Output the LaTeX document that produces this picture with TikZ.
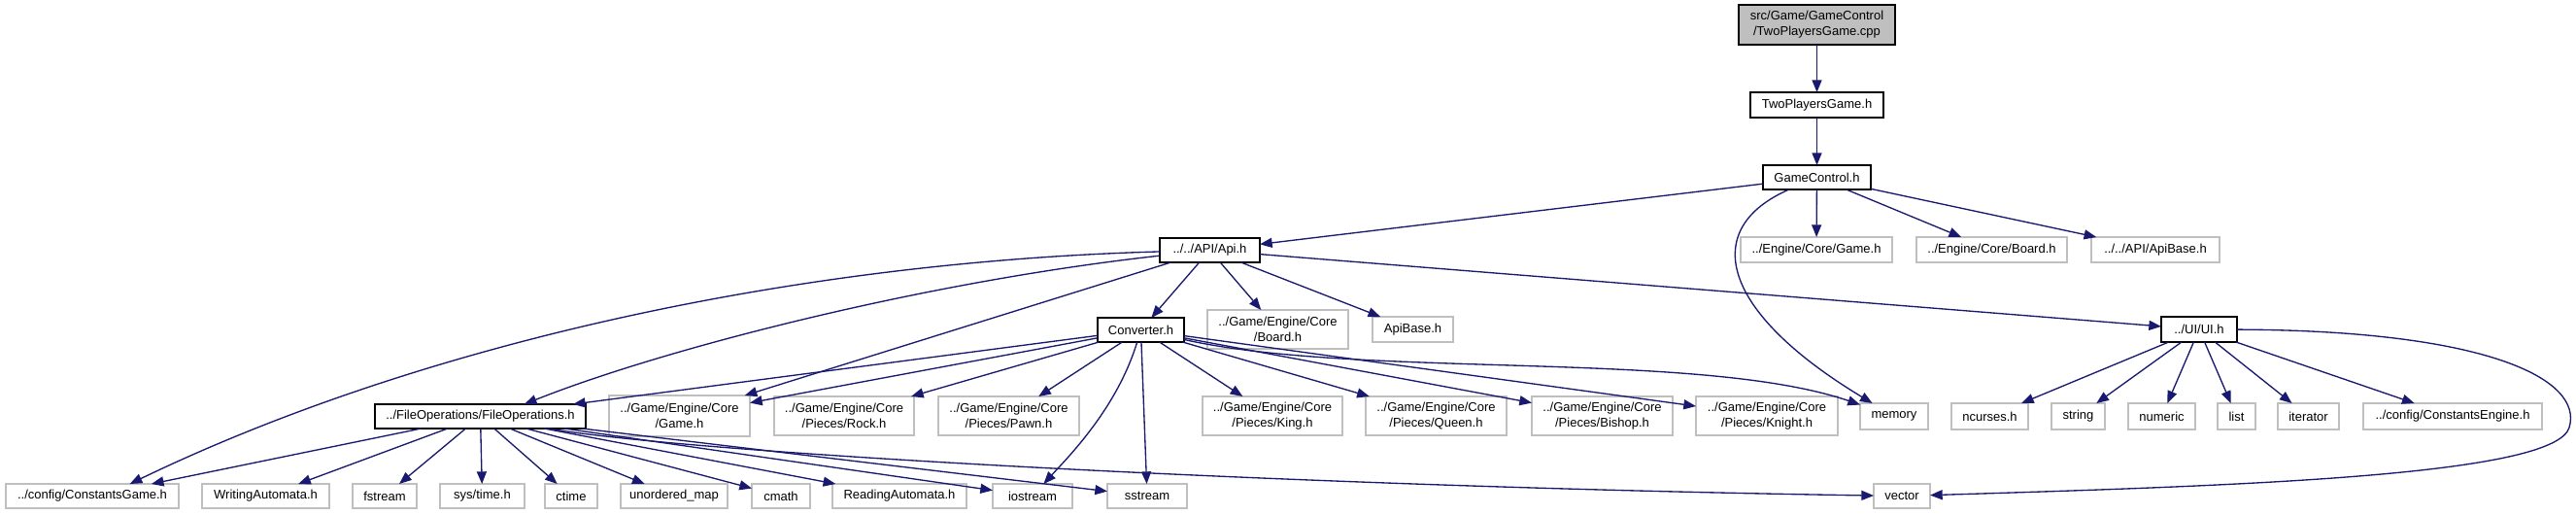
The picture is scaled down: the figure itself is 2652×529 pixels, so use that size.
\documentclass[tikz,border=0pt]{standalone}
\usepackage{fontspec}
\setmainfont{Liberation Sans}
\usetikzlibrary{arrows.meta}
\definecolor{edgecol}{HTML}{191970}
\definecolor{grayline}{HTML}{BFBFBF}
\definecolor{grayfill}{HTML}{BFBFBF}
\newcommand{\gn}[7]{\node[#1,minimum width={0.75pt*(#5-#3)},minimum height={0.75pt*(#6-#4)}] (#2) at ({(#3+#5)/2},{(#4+#6)/2}) {#7};}
\tikzset{
  box/.style={draw=black, line width=1.1pt, fill=white, inner sep=0pt, outer sep=0pt, align=center, font=\fontsize{9.75pt}{12pt}\selectfont},
  gbox/.style={box, draw=grayline},
  rootbox/.style={box, fill=grayfill},
  dep/.style={draw=edgecol, line width=1pt, -{Triangle[length=9.5pt,width=7.5pt]}},
}
\begin{document}
\begin{tikzpicture}[x=0.75pt,y=-0.75pt]
\useasboundingbox[fill=white] (0,0) rectangle (2652,529);
% nodes
\gn{rootbox}{cpp}{1790}{5}{1951}{46}{src/Game/GameControl\\/TwoPlayersGame.cpp}
\gn{box}{tpg}{1802}{95}{1939}{121}{TwoPlayersGame.h}
\gn{box}{gc}{1815}{170}{1926}{195}{GameControl.h}
\gn{box}{api}{1194}{245}{1297}{270}{../../API/Api.h}
\gn{gbox}{egame}{1792}{244}{1948}{270}{../Engine/Core/Game.h}
\gn{gbox}{eboard}{1973}{244}{2128}{270}{../Engine/Core/Board.h}
\gn{gbox}{apibasea}{2153}{244}{2285}{270}{../../API/ApiBase.h}
\gn{box}{conv}{1130}{327}{1219}{352}{Converter.h}
\gn{gbox}{gboard}{1243}{319}{1388}{359}{../Game/Engine/Core\\/Board.h}
\gn{gbox}{apibaseb}{1413}{326}{1496}{352}{ApiBase.h}
\gn{box}{ui}{2225}{326}{2303}{352}{../UI/UI.h}
\gn{box}{fileops}{386}{416}{603}{441}{../FileOperations/FileOperations.h}
\gn{gbox}{ggame}{627}{407}{772}{449}{../Game/Engine/Core\\/Game.h}
\gn{gbox}{rock}{797}{408}{941}{448}{../Game/Engine/Core\\/Pieces/Rock.h}
\gn{gbox}{pawn}{966}{408}{1111}{448}{../Game/Engine/Core\\/Pieces/Pawn.h}
\gn{gbox}{king}{1238}{408}{1382}{448}{../Game/Engine/Core\\/Pieces/King.h}
\gn{gbox}{queen}{1406}{408}{1551}{448}{../Game/Engine/Core\\/Pieces/Queen.h}
\gn{gbox}{bishop}{1577}{408}{1722}{448}{../Game/Engine/Core\\/Pieces/Bishop.h}
\gn{gbox}{knight}{1746}{408}{1892}{448}{../Game/Engine/Core\\/Pieces/Knight.h}
\gn{gbox}{memory}{1915}{415}{1985}{442}{memory}
\gn{gbox}{ncurses}{2009}{415}{2088}{442}{ncurses.h}
\gn{gbox}{string}{2112}{415}{2167}{442}{string}
\gn{gbox}{numeric}{2191}{415}{2260}{442}{numeric}
\gn{gbox}{list}{2283}{415}{2322}{442}{list}
\gn{gbox}{iterator}{2345}{415}{2408}{442}{iterator}
\gn{gbox}{cengine}{2433}{415}{2617}{442}{../config/ConstantsEngine.h}
\gn{gbox}{cgame}{6}{498}{184}{523}{../config/ConstantsGame.h}
\gn{gbox}{writing}{208}{498}{339}{523}{WritingAutomata.h}
\gn{gbox}{fstream}{363}{498}{429}{523}{fstream}
\gn{gbox}{systime}{453}{498}{540}{523}{sys/time.h}
\gn{gbox}{ctime}{561}{498}{615}{523}{ctime}
\gn{gbox}{umap}{639}{498}{749}{523}{unordered\_map}
\gn{gbox}{cmath}{774}{498}{834}{523}{cmath}
\gn{gbox}{reading}{857}{498}{995}{523}{ReadingAutomata.h}
\gn{gbox}{iostream}{1022}{498}{1104}{523}{iostream}
\gn{gbox}{sstream}{1140}{498}{1222}{523}{sstream}
\gn{gbox}{vector}{1929}{498}{1987}{523}{vector}
% edges
\draw[dep] (cpp) -- (tpg);
\draw[dep] (tpg) -- (gc);
\draw[dep] (gc) -- (api);
\draw[dep] (gc) .. controls (1750,235) and (1770,320) .. (memory);
\draw[dep] (gc) -- (egame);
\draw[dep] (gc) -- (eboard);
\draw[dep] (gc) -- (apibasea);
\draw[dep] (api) -- (conv);
\draw[dep] (api) -- (gboard);
\draw[dep] (api) -- (apibaseb);
\draw[dep] (api) -- (ui);
\draw[dep] (api) -- (ggame);
\draw[dep] (api) .. controls (950,290) and (680,360) .. ([xshift=34pt]fileops.north);
\draw[dep] (api) .. controls (800,270) and (420,360) .. ([xshift=29pt]cgame.north);
\draw[dep] (conv) -- (fileops);
\draw[dep] (conv) -- (ggame);
\draw[dep] (conv) -- (rock);
\draw[dep] (conv) -- (pawn);
\draw[dep] (conv) .. controls (1150,420) and (1100,470) .. (iostream);
\draw[dep] (conv) -- (sstream);
\draw[dep] (conv) -- (king);
\draw[dep] (conv) -- (queen);
\draw[dep] (conv) -- (bishop);
\draw[dep] (conv) -- (knight);
\draw[dep] (conv) .. controls (1400,390) and (1750,360) .. (memory);
\draw[dep] (ui) -- (ncurses);
\draw[dep] (ui) -- (string);
\draw[dep] (ui) -- (numeric);
\draw[dep] (ui) -- (list);
\draw[dep] (ui) -- (iterator);
\draw[dep] (ui) -- (cengine);
\draw[dep] (ui) .. controls (2560,340) and (2660,390) .. (2645,440) .. controls (2630,490) and (2300,500) .. (vector);
\draw[dep] (fileops) -- (cgame);
\draw[dep] (fileops) -- (writing);
\draw[dep] (fileops) -- (fstream);
\draw[dep] (fileops) -- (systime);
\draw[dep] (fileops) -- (ctime);
\draw[dep] (fileops) -- (umap);
\draw[dep] (fileops) -- (cmath);
\draw[dep] (fileops) -- (reading);
\draw[dep] (fileops) -- (iostream);
\draw[dep] (fileops) -- (sstream);
\draw[dep] (fileops) .. controls (700,465) and (1300,500) .. (vector);
\end{tikzpicture}
\end{document}
